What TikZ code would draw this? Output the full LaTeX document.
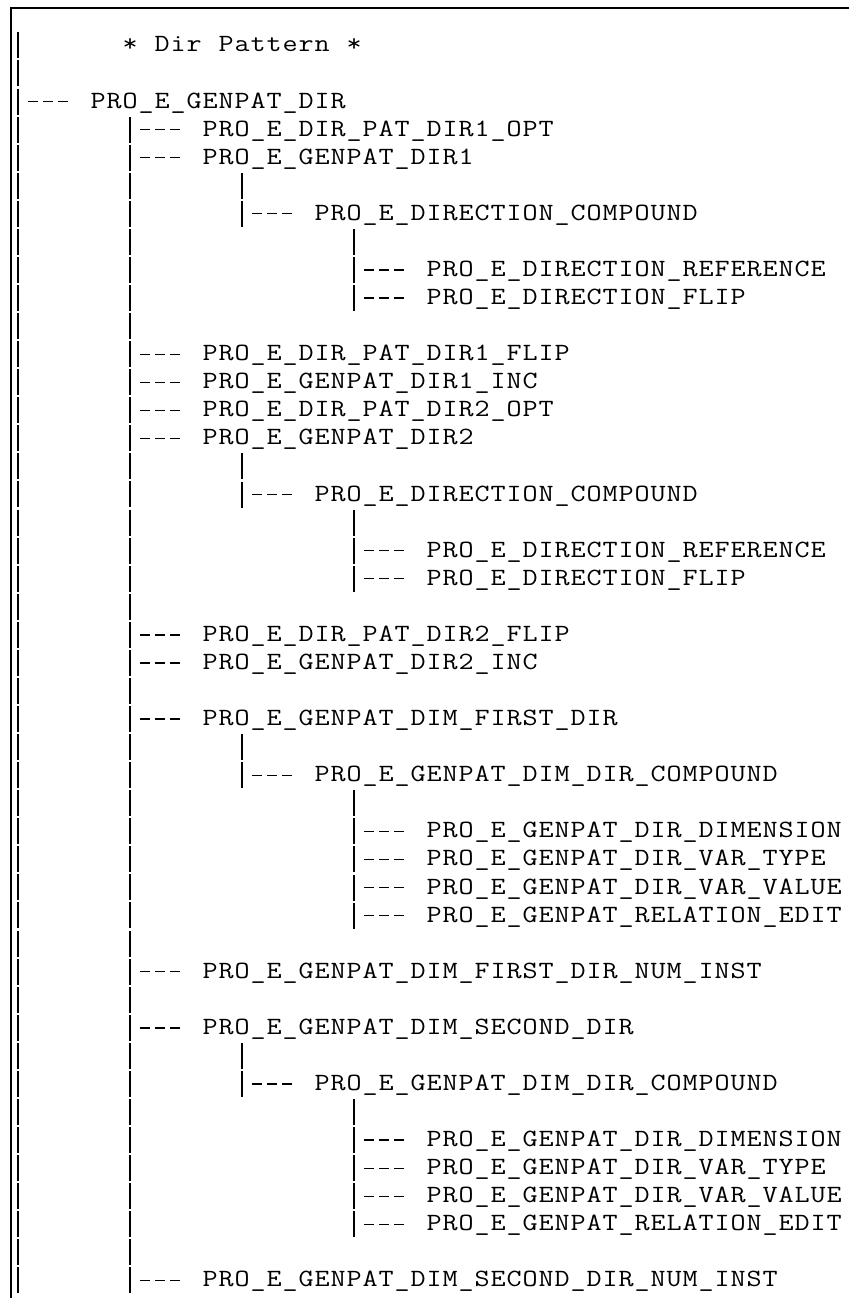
\documentclass[tikz,border=0pt]{standalone}
\usepackage{graphicx}
\newlength\cw
\setlength\cw{12pt}
\def\monoend{monoend-marker}
\def\mono#1{\monoloop#1\monoend}
\def\monoloop#1{\ifx#1\monoend\else\makebox[\cw]{\scalebox{1.18}[1]{#1}}\expandafter\monoloop\fi}
\tikzset{
  lbl/.style={anchor=west, inner sep=0pt, text height=9.75pt, text depth=0pt,
    font=\ttfamily\fontsize{18.6pt}{22pt}\selectfont},
  pipe/.style={line width=1pt, dash pattern=on 19.5pt off 1.55pt},
  stub/.style={line width=1pt, dash pattern=on 7.5pt off 3.75pt,
    shorten <=7.5pt, shorten >=16.5pt},
  frame/.style={line width=1.5pt}
}
% leaf: name, pipe column, line, text
\newcommand\tleaf[4]{%
  \coordinate (#1-j) at ({10+(#2+0.5)*16}, #3);
  \node[lbl] (#1) at ({10+(#2+5)*16}, #3) {\mono{#4}};
  \draw[stub] (#1-j) -- (#1);
}
% vertical pipe: name, column, first line, last line
\newcommand\vpipe[4]{%
  \coordinate (#1-t) at ({10+(#2+0.5)*16}, {#3-0.4631});
  \coordinate (#1-b) at ({10+(#2+0.5)*16}, {#4+0.4631});
  \draw[pipe] (#1-t) -- (#1-b);
}
\begin{document}
\begin{tikzpicture}
\useasboundingbox (0pt,0pt) rectangle (636.75pt,-973.5pt);
\draw[frame] (636.75pt,-6pt) -- (8.25pt,-6pt) -- (8.25pt,-973.5pt);
\begin{scope}[x=0.75pt, y=-21.0525pt, shift={(0,0.6174)}]
  % title
  \node[lbl] (title) at (122, 1) {\mono{*~Dir~Pattern~*}};
  % vertical pipes
  \vpipe{va}{0}{1}{45}
  \vpipe{vb}{7}{4}{45}
  \vpipe{vc1}{14}{6}{7}
  \vpipe{vc2}{14}{16}{17}
  \vpipe{vc3}{14}{26}{27}
  \vpipe{vc4}{14}{37}{38}
  \vpipe{vd1}{21}{8}{10}
  \vpipe{vd2}{21}{18}{20}
  \vpipe{vd3}{21}{28}{32}
  \vpipe{vd4}{21}{39}{43}
  % labels
  \tleaf{n3}{0}{3}{PRO\_E\_GENPAT\_DIR}
  \tleaf{n4}{7}{4}{PRO\_E\_DIR\_PAT\_DIR1\_OPT}
  \tleaf{n5}{7}{5}{PRO\_E\_GENPAT\_DIR1}
  \tleaf{n7}{14}{7}{PRO\_E\_DIRECTION\_COMPOUND}
  \tleaf{n9}{21}{9}{PRO\_E\_DIRECTION\_REFERENCE}
  \tleaf{n10}{21}{10}{PRO\_E\_DIRECTION\_FLIP}
  \tleaf{n12}{7}{12}{PRO\_E\_DIR\_PAT\_DIR1\_FLIP}
  \tleaf{n13}{7}{13}{PRO\_E\_GENPAT\_DIR1\_INC}
  \tleaf{n14}{7}{14}{PRO\_E\_DIR\_PAT\_DIR2\_OPT}
  \tleaf{n15}{7}{15}{PRO\_E\_GENPAT\_DIR2}
  \tleaf{n17}{14}{17}{PRO\_E\_DIRECTION\_COMPOUND}
  \tleaf{n19}{21}{19}{PRO\_E\_DIRECTION\_REFERENCE}
  \tleaf{n20}{21}{20}{PRO\_E\_DIRECTION\_FLIP}
  \tleaf{n22}{7}{22}{PRO\_E\_DIR\_PAT\_DIR2\_FLIP}
  \tleaf{n23}{7}{23}{PRO\_E\_GENPAT\_DIR2\_INC}
  \tleaf{n25}{7}{25}{PRO\_E\_GENPAT\_DIM\_FIRST\_DIR}
  \tleaf{n27}{14}{27}{PRO\_E\_GENPAT\_DIM\_DIR\_COMPOUND}
  \tleaf{n29}{21}{29}{PRO\_E\_GENPAT\_DIR\_DIMENSION}
  \tleaf{n30}{21}{30}{PRO\_E\_GENPAT\_DIR\_VAR\_TYPE}
  \tleaf{n31}{21}{31}{PRO\_E\_GENPAT\_DIR\_VAR\_VALUE}
  \tleaf{n32}{21}{32}{PRO\_E\_GENPAT\_RELATION\_EDIT}
  \tleaf{n34}{7}{34}{PRO\_E\_GENPAT\_DIM\_FIRST\_DIR\_NUM\_INST}
  \tleaf{n36}{7}{36}{PRO\_E\_GENPAT\_DIM\_SECOND\_DIR}
  \tleaf{n38}{14}{38}{PRO\_E\_GENPAT\_DIM\_DIR\_COMPOUND}
  \tleaf{n40}{21}{40}{PRO\_E\_GENPAT\_DIR\_DIMENSION}
  \tleaf{n41}{21}{41}{PRO\_E\_GENPAT\_DIR\_VAR\_TYPE}
  \tleaf{n42}{21}{42}{PRO\_E\_GENPAT\_DIR\_VAR\_VALUE}
  \tleaf{n43}{21}{43}{PRO\_E\_GENPAT\_RELATION\_EDIT}
  \tleaf{n45}{7}{45}{PRO\_E\_GENPAT\_DIM\_SECOND\_DIR\_NUM\_INST}
\end{scope}
\end{tikzpicture}
\end{document}
